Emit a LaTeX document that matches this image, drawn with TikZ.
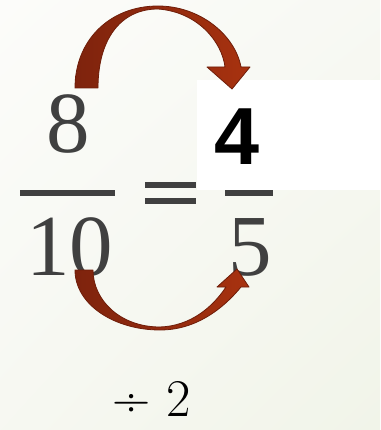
\documentclass[tikz,border=0pt]{standalone}
\usepackage{fontspec}
\usepackage{tikz}
\usetikzlibrary{positioning,calc,shadings}
\newfontfamily\boldsans{Liberation Sans}
\newfontfamily\numserif{Liberation Serif}
\definecolor{numgray}{HTML}{404040}
\definecolor{arrowdark}{HTML}{7E230D}
\definecolor{arrowlight}{HTML}{A8320F}
\definecolor{arrowedge}{HTML}{6E1D09}
\definecolor{bgtop}{HTML}{FCFCFA}
\definecolor{bgbottom}{HTML}{F1F4E9}
\tikzset{
  numtext/.style={anchor=base, inner sep=0pt, text=numgray, font=\numserif\fontsize{87}{87}\selectfont},
  bigfour/.style={anchor=base, inner sep=0pt, text=black, font=\boldsans\bfseries\fontsize{81}{81}\selectfont},
  optext/.style={anchor=base, inner sep=0pt, text depth=0pt, text=black, font=\fontsize{53}{53}\selectfont},
  barline/.style={fill=numgray, inner sep=0pt, minimum height=6pt},
  curvearrow/.style={draw=arrowedge, line width=0.8pt, line join=round, left color=arrowdark, right color=arrowlight},
}

\begin{document}
\begin{tikzpicture}[x=1pt, y=-1pt]
  % background
  \shade[upper left=bgtop, upper right=bgtop!60!bgbottom, lower left=bgtop!50!bgbottom, lower right=bgbottom]
    (0,0) rectangle (380,430);
  \useasboundingbox (0,0) rectangle (380,430);
  \fill[white] (197,80) rectangle (380,190);

  % left fraction
  \node[numtext] (eight) at (68,153) {8};
  \node[barline, minimum width=95pt] (lbar) at (67.5,193) {};
  \node[numtext] (ten) at (69.5,275) {10};

  % equals sign
  \node[barline, minimum width=51pt] (eqtop) at (170.5,185) {};
  \node[barline, minimum width=51pt] (eqbot) at (170.5,201) {};

  % right fraction
  \node[bigfour] (four) at (237,165) {4};
  \node[barline, minimum width=48pt] (rbar) at (249,193) {};
  \node[numtext] (five) at (250,275) {5};

  \node[optext] (divtwo) at (152,416) {÷ 2};

  % top arrow 8 -> 4
  \draw[curvearrow] (75,88) .. controls (75,40) and (110,6) .. (158,6)
    .. controls (200,6) and (235,35) .. (241,67) -- (250,67) -- (232,89) -- (207,67) -- (225,67)
    .. controls (222,42) and (198,12) .. (158,9)
    .. controls (120,9) and (98,40) .. (98,88) -- cycle;

  % bottom arrow 10 -> 5
  \draw[curvearrow] (75,270) .. controls (75,305) and (115,330) .. (160,330)
    .. controls (195,330) and (222,310) .. (241,287) -- (249,287) -- (237,269) -- (217,287) -- (226,287)
    .. controls (212,308) and (190,326) .. (160,327)
    .. controls (120,327) and (93,300) .. (93,270) -- cycle;
\end{tikzpicture}
\end{document}
